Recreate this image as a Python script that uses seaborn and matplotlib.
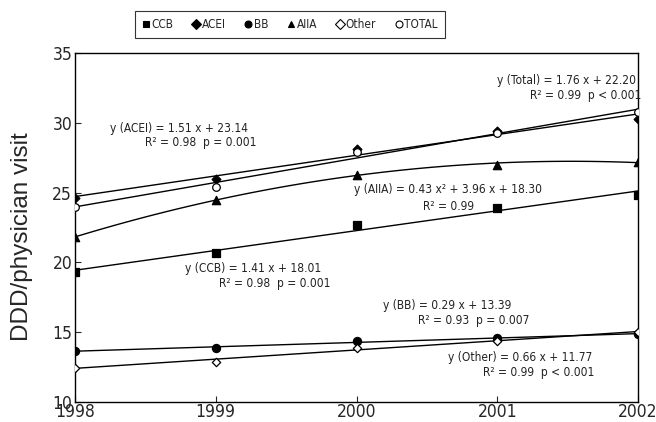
import numpy as np
import pandas as pd
import matplotlib
matplotlib.use('Agg')
import matplotlib.pyplot as plt
from matplotlib.lines import Line2D
import seaborn as sns

# ─── Data ─────────────────────────────────────────────────────────────────────
years = [1998, 1999, 2000, 2001, 2002]
ccb   = [19.3, 20.7, 22.7, 23.9, 24.8]
acei  = [24.6, 26.0, 28.1, 29.4, 30.3]
bb    = [13.65, 13.85, 14.4, 14.6, 14.85]
aiia  = [21.8, 24.5, 26.3, 27.0, 27.2]
other = [12.45, 12.9, 13.9, 14.4, 15.0]
total = [24.0, 25.4, 27.9, 29.3, 30.8]

series_names = ['CCB', 'ACEI', 'BB', 'AIIA', 'Other', 'TOTAL']
fit_order    = [1, 1, 1, 2, 1, 1]

eq_lines = [
    ('y (ACEI) = 1.51 x + 23.14', 'R² = 0.98  p = 0.001'),
    ('y (Total) = 1.76 x + 22.20', 'R² = 0.99  p < 0.001'),
    ('y (AIIA) = 0.43 x² + 3.96 x + 18.30', 'R² = 0.99'),
    ('y (CCB) = 1.41 x + 18.01', 'R² = 0.98  p = 0.001'),
    ('y (BB) = 0.29 x + 13.39', 'R² = 0.93  p = 0.007'),
    ('y (Other) = 0.66 x + 11.77', 'R² = 0.99  p < 0.001'),
]

df = pd.DataFrame({'year': years, 'CCB': ccb, 'ACEI': acei, 'BB': bb,
                   'AIIA': aiia, 'Other': other, 'TOTAL': total})

# ─── Style ────────────────────────────────────────────────────────────────────
sns.set_style('ticks')
plt.rcParams['font.family'] = ['DejaVu Sans']
plt.rcParams['font.stretch'] = 'condensed'

marker_style = {
    'CCB':   ('s', 'black', 26),
    'ACEI':  ('D', 'black', 20),
    'BB':    ('o', 'black', 34),
    'AIIA':  ('^', 'black', 36),
    'Other': ('D', 'white', 18),
    'TOTAL': ('o', 'white', 30),
}

fig = plt.figure(figsize=(6.56, 4.22), dpi=100)
ax = fig.add_axes([0.1143, 0.0474, 0.8583, 0.8268])

# fitted trend lines (quadratic for AIIA)
for name, order in zip(series_names, fit_order):
    sns.regplot(data=df, x='year', y=name, order=order, ci=None, scatter=False,
                truncate=True, ax=ax, line_kws=dict(color='black', lw=1.0))

for name in series_names:
    m, fc, s = marker_style[name]
    sns.scatterplot(data=df, x='year', y=name, marker=m, s=s, color=fc,
                    edgecolor='black', linewidth=0.9, ax=ax, zorder=5,
                    legend=False)

# equation labels
eq_pos = [
    ((1998.25, 29.63), (1998.50, 28.62)),
    ((2001.00, 33.07), (2001.23, 31.99)),
    ((1999.98, 25.19), (2000.47, 24.04)),
    ((1998.78, 19.60), (1999.02, 18.52)),
    ((2000.19, 16.95), (2000.44, 15.87)),
    ((2000.65, 13.22), (2000.90, 12.08)),
]
for (l1, l2), (p1, p2) in zip(eq_lines, eq_pos):
    ax.text(p1[0], p1[1], l1, fontsize=8.6, ha='left', va='center', color='#222222')
    ax.text(p2[0], p2[1], l2, fontsize=8.6, ha='left', va='center', color='#222222')

ax.set_xlim(1998, 2002)
ax.set_ylim(10, 35)
ax.set_xticks(years)
ax.set_yticks([10, 15, 20, 25, 30, 35])
ax.tick_params(direction='in', length=4, width=0.8, labelsize=12.5, pad=2)
ax.tick_params(axis='x', pad=1)
ax.set_xlabel('')
ax.set_ylabel('DDD/physician visit', fontsize=17.5, family='Liberation Sans',
              stretch='normal')
ax.yaxis.set_label_coords(-0.075, 0.475)
for sp in ax.spines.values():
    sp.set_visible(True)
    sp.set_color('black')
    sp.set_linewidth(1.0)

handles = []
for name in series_names:
    m, fc, s = marker_style[name]
    handles.append(Line2D([], [], ls='none', marker=m, markersize=5,
                          markerfacecolor=fc, markeredgecolor='black',
                          markeredgewidth=0.8, color='black'))
leg = fig.legend(handles, series_names, loc='center', bbox_to_anchor=(0.442, 0.941),
                 ncol=6, frameon=True, fancybox=False, edgecolor='black',
                 fontsize=8.5, handlelength=0.6, handletextpad=0.2,
                 columnspacing=1.6, borderpad=0.6, borderaxespad=0)
leg.get_frame().set_linewidth(0.8)

fig.savefig('out.png', dpi=100)
